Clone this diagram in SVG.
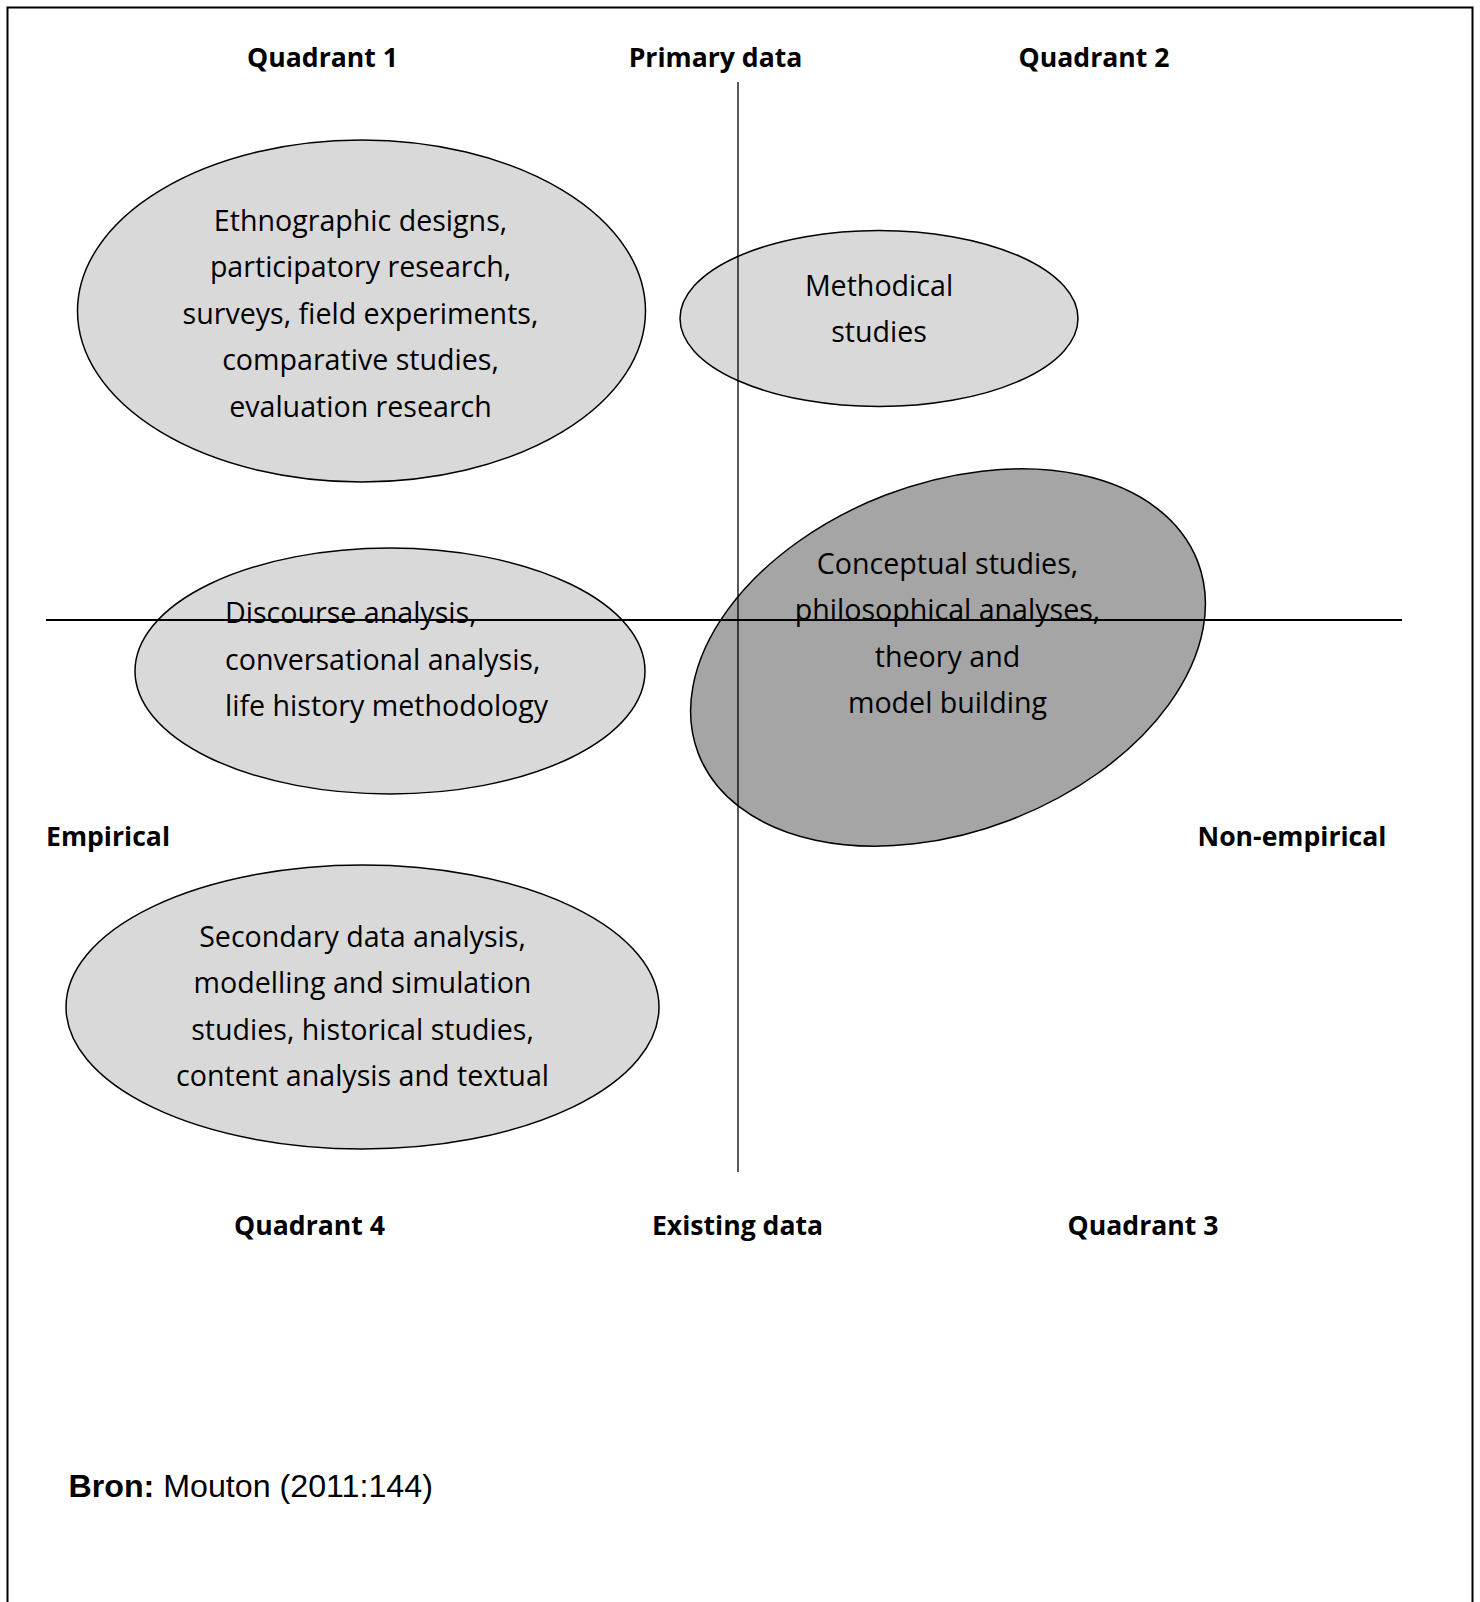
<svg xmlns="http://www.w3.org/2000/svg" width="1480" height="1602" viewBox="0 0 1480 1602">
  <style>
    .frame { fill: none; stroke: #000; stroke-width: 2; }
    .blob { fill: #d9d9d9; stroke: #000; stroke-width: 1.5; }
    .blob-dark { fill: #a5a5a5; stroke: #000; stroke-width: 1.5; }
    .body { font-family: "Open Sans", "Noto Sans", sans-serif; font-size: 28.6px; fill: #000; }
    .c { text-anchor: middle; }
    .label { font-family: "Open Sans", "Noto Sans", sans-serif; font-size: 26.6px; font-weight: bold; fill: #000; }
    .axis { stroke: #000; fill: none; }
    .src { font-family: "Liberation Sans", Arial, sans-serif; font-size: 32.2px; fill: #000; }
  </style>

  <rect width="1480" height="1602" fill="#fff"/>
  <!-- outer frame, open at the bottom -->
  <path class="frame" d="M7.5,1602 V7.5 H1472.5 V1602"/>

  <!-- axis labels -->
  <g id="labels">
    <text class="label c" x="322.5" y="67.3">Quadrant 1</text>
    <text class="label c" x="715.5" y="67.3">Primary data</text>
    <text class="label c" x="1094" y="67.3">Quadrant 2</text>
    <text class="label" x="46" y="846">Empirical</text>
    <text class="label c" x="1292" y="846">Non-empirical</text>
    <text class="label c" x="309.5" y="1235">Quadrant 4</text>
    <text class="label c" x="737.5" y="1235">Existing data</text>
    <text class="label c" x="1143" y="1235">Quadrant 3</text>
  </g>

  <g id="node-q1">
    <ellipse class="blob" cx="361.5" cy="311" rx="284" ry="171"/>
    <text class="body c" x="360.5" y="230.5">Ethnographic designs,</text>
    <text class="body c" x="360.5" y="277">participatory research,</text>
    <text class="body c" x="360.5" y="323.5">surveys, field experiments,</text>
    <text class="body c" x="360.5" y="370">comparative studies,</text>
    <text class="body c" x="360.5" y="416.5">evaluation research</text>
  </g>

  <g id="node-methodical">
    <ellipse class="blob" cx="879" cy="318.5" rx="199" ry="88"/>
    <text class="body c" x="879" y="296">Methodical</text>
    <text class="body c" x="879" y="342">studies</text>
  </g>

  <g id="node-discourse">
    <ellipse class="blob" cx="390" cy="671" rx="255" ry="123"/>
    <text class="body" x="225" y="623">Discourse analysis,</text>
    <text class="body" x="225" y="669.5">conversational analysis,</text>
    <text class="body" x="225" y="716">life history methodology</text>
  </g>

  <g id="node-conceptual">
    <ellipse class="blob-dark" cx="948" cy="657.5" rx="267.5" ry="174" transform="rotate(-21 948 657.5)"/>
    <text class="body c" x="947.5" y="573.5">Conceptual studies,</text>
    <text class="body c" x="947.5" y="620">philosophical analyses,</text>
    <text class="body c" x="947.5" y="666.5">theory and</text>
    <text class="body c" x="947.5" y="713">model building</text>
  </g>

  <g id="node-secondary">
    <ellipse class="blob" cx="362.5" cy="1007" rx="296.5" ry="142"/>
    <text class="body c" x="362.5" y="946.5">Secondary data analysis,</text>
    <text class="body c" x="362.5" y="993">modelling and simulation</text>
    <text class="body c" x="362.5" y="1039.5">studies, historical studies,</text>
    <text class="body c" x="362.5" y="1086">content analysis and textual</text>
  </g>

  <!-- the two axes cross over everything -->
  <g id="connectors">
    <line class="axis" x1="738" y1="82" x2="738" y2="1172" stroke-width="1.3"/>
    <line class="axis" x1="46" y1="620" x2="1402" y2="620" stroke-width="2"/>
  </g>

  <g id="source">
    <text class="src" x="68.5" y="1497"><tspan font-weight="bold">Bron:</tspan> Mouton (2011:144)</text>
  </g>
</svg>
